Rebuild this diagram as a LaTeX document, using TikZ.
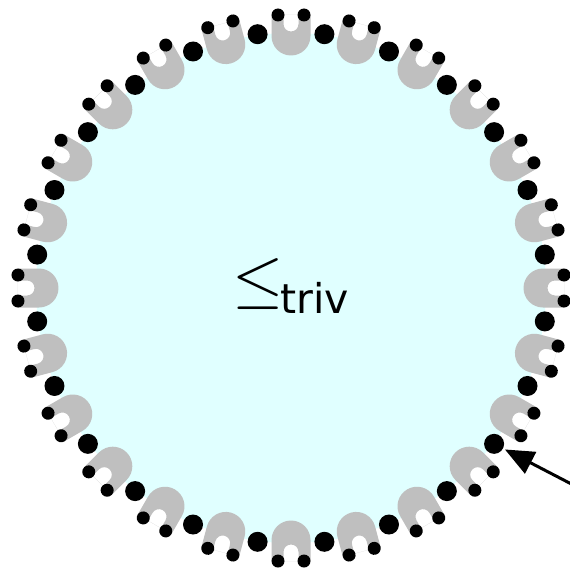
\documentclass[tikz,border=0pt]{standalone}
\usepackage{graphicx}
\usepackage{fontspec}
\usetikzlibrary{arrows.meta}
\newfontfamily\trivfont{DejaVu Sans}
\definecolor{disc}{RGB}{224,255,255}
\definecolor{ushape}{RGB}{191,191,191}

\begin{document}
\begin{tikzpicture}[x=1pt,y=1pt,
    bigdot/.style={circle,fill=black,inner sep=0pt,minimum size=20pt}]
  % bounding box
  \useasboundingbox (-291,-280) rectangle (279,288);
  % Disc
  \fill[disc] (0,0) circle (255);
  % Horseshoes with their two end points
  \foreach \k in {0,...,23} {
    \begin{scope}[rotate=15*\k]
      \fill[ushape,even odd rule]
        (-19.5,273) -- (-19.5,252) arc[start angle=180,end angle=360,radius=19.5] -- (19.5,273) -- cycle
        (-7.5,273) -- (-7.5,264) arc[start angle=180,end angle=360,radius=7.5] -- (7.5,273) -- cycle;
      \fill (-13,273) circle (6.5);
      \fill (13,273) circle (6.5);
    \end{scope}
  }
  % Big dots between them
  \foreach \k in {0,...,23}
    \node[bigdot] (b\k) at ({97.5+15*\k}:256) {};
  % Label
  \node[anchor=base west,inner sep=0pt] (leq) at (-58.5,-12) {\scalebox{6.6}{$\leq$}};
  \node[font=\trivfont\fontsize{41}{48}\selectfont,anchor=base west,inner sep=0pt] (triv) at (-11,-25) {triv};
  % Arrow
  \coordinate (arrowstart) at (290,-201);
  \draw[line width=3pt,-{Triangle[length=29pt,width=24pt]},shorten >=2pt] (arrowstart) -- (b15);
\end{tikzpicture}
\end{document}
